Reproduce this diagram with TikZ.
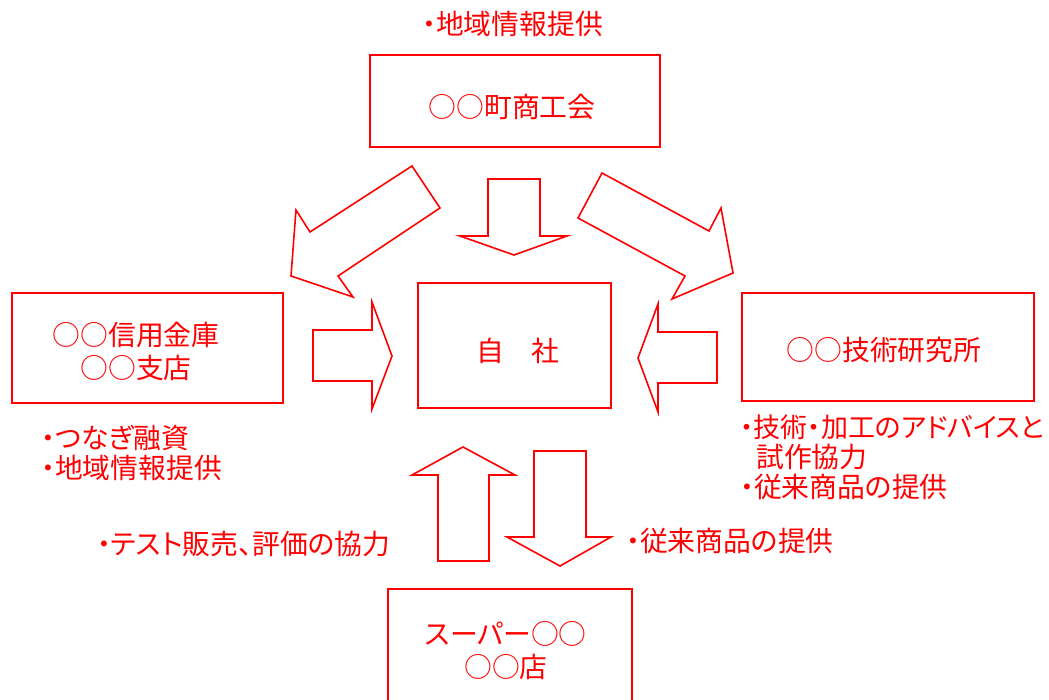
\documentclass[tikz,border=0pt]{standalone}
\usepackage{fontspec}
\setmainfont{Noto Sans CJK JP}[RawFeature=+palt]
\begin{document}
\begin{tikzpicture}[x=1pt,y=-1pt,
  box/.style={draw=red, line width=2pt},
  blk/.style={draw=red, line width=1.6pt, fill=white, line join=miter},
  lbl/.style={text=red, font=\fontsize{27.8}{33}\selectfont, inner sep=0pt, align=center},
  note/.style={text=red, font=\fontsize{27.8}{33}\selectfont, inner sep=0pt, anchor=west},
]
\useasboundingbox (0,0) rectangle (1049,700);
% boxes
\draw[box] (370,55) rectangle (660,147);
\draw[box] (418,283) rectangle (611,408);
\draw[box] (12,293) rectangle (283,403);
\draw[box] (742,293) rectangle (1034,401);
\draw[box] (388,589) rectangle (632,720);
% labels in boxes
\node[lbl] (tTop) at (512,107) {○○町商工会};
\node[lbl] (tCenter) at (518,351) {自　社};
\node[lbl] (tLeft) at (136,351) {○○信用金庫\\○○支店};
\node[lbl] (tRight) at (884,350) {○○技術研究所};
\node[lbl] (tBottom) at (506,651) {スーパー○○\\○○店};
% notes
\node[note] (nTop) at (422,24) {・地域情報提供};
\node[note] (nL1) at (41,438) {・つなぎ融資};
\node[note] (nL2) at (41,468) {・地域情報提供};
\node[note, font=\fontsize{27}{33}\selectfont] (nR1) at (740,427) {・技術・加工のアドバイスと};
\node[note] (nR2) at (756,457) {試作協力};
\node[note] (nR3) at (740,487) {・従来商品の提供};
\node[note] (nB1) at (97,544) {・テスト販売、評価の協力};
\node[note] (nB2) at (626,541) {・従来商品の提供};
% block arrows
% top down
\draw[blk] (488,179) -- (540,179) -- (540,236) -- (567,236) -- (514,255) -- (460,236) -- (488,236) -- cycle;
% left diagonal
\draw[blk] (412,166) -- (440,208) -- (338,276) -- (353,297) -- (291,276) -- (296,210) -- (310,232) -- cycle;
% right diagonal
\draw[blk] (602,173) -- (709,231) -- (721,208) -- (733,273) -- (672,299) -- (685,276) -- (578,218) -- cycle;
% left horizontal (pointing right)
\draw[blk] (313,330) -- (372,330) -- (372,302) -- (392,356) -- (372,409) -- (372,381) -- (313,381) -- cycle;
% right horizontal (pointing left)
\draw[blk] (717,332) -- (658,332) -- (658,304) -- (638,358) -- (658,412) -- (658,383) -- (717,383) -- cycle;
% bottom up
\draw[blk] (438,561) -- (438,475) -- (412,475) -- (463,447) -- (515,475) -- (489,475) -- (489,561) -- cycle;
% bottom down
\draw[blk] (534,451) -- (586,451) -- (586,537) -- (611,537) -- (560,566) -- (507,537) -- (534,537) -- cycle;
\end{tikzpicture}
\end{document}
